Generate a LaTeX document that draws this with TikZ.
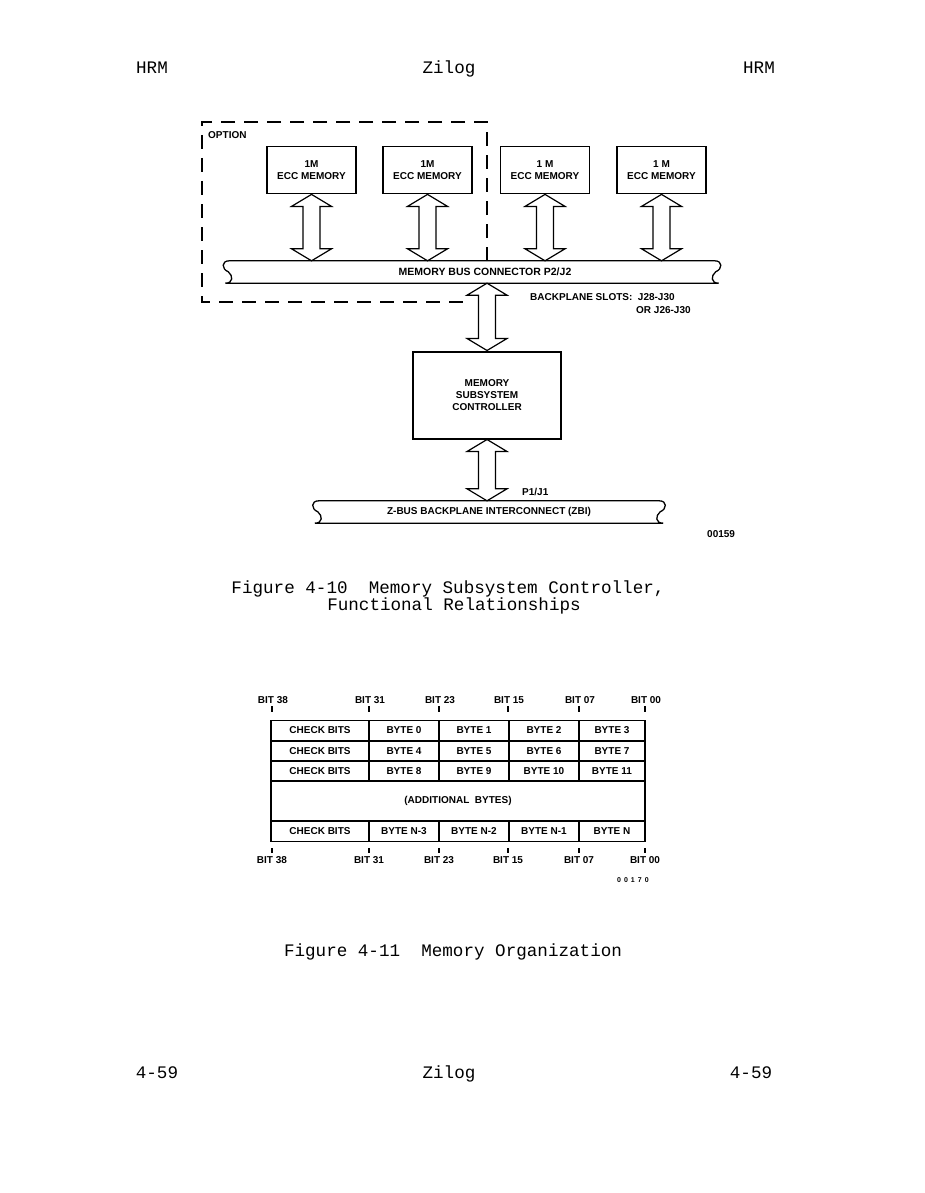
\documentclass[tikz,border=0pt]{standalone}
\usepackage{fontspec}
\setmainfont{Liberation Sans}
\setmonofont{Liberation Mono}
\usepackage{tikz}
\usetikzlibrary{positioning,calc}

\newcommand{\diagfont}{\fontsize{10}{12}\selectfont\bfseries}
\newcommand{\pagefont}{\fontsize{17.6}{17}\selectfont\ttfamily}

% hollow two-headed bus arrow, #1 upper tip, #2 lower tip
\newcommand{\busarrow}[2]{%
  \draw[dblarrow] let \p1=(#1), \p2=(#2) in
    (\x1,\y1) -- ++(20pt,-12pt) -- ++(-11.5pt,0pt) -- (\x1+8.5pt,\y2+12pt) -- ++(11.5pt,0pt)
    -- (\x1,\y2) -- ++(-20pt,12pt) -- ++(11.5pt,0pt) -- (\x1-8.5pt,\y1-12pt) -- ++(-11.5pt,0pt) -- cycle;}

% ribbon outline with curled ends round a bus node
\newcommand{\busoutline}[1]{%
  \draw[busline] let \p1=(#1.north west), \p2=(#1.south east) in
    (\x1+2pt,\y2) .. controls (\x1+10pt,\y2) and (\x1+10pt,\y1-15pt) .. (\x1+5pt,\y1-11pt)
    .. controls (\x1-2pt,\y1-8pt) and (\x1-2pt,\y1) .. (\x1+6pt,\y1)
    -- (\x2-6pt,\y1)
    .. controls (\x2+2pt,\y1) and (\x2+2pt,\y1-8pt) .. (\x2-5pt,\y1-11pt)
    .. controls (\x2-10pt,\y1-15pt) and (\x2-10pt,\y2) .. (\x2-2pt,\y2)
    -- cycle;}

\begin{document}
\begin{tikzpicture}[x=1pt, y=-1pt,
  page/.style={font=\pagefont, inner sep=0pt, anchor=base},
  txt/.style={font=\diagfont, inner sep=0pt},
  membox/.style={draw, line width=1.8pt, minimum width=89pt, minimum height=47pt, align=center, inner sep=0pt, font=\diagfont},
  ctrlbox/.style={draw, line width=2pt, minimum width=148pt, minimum height=87pt, align=center, inner sep=0pt, font=\diagfont},
  bus/.style={minimum height=22pt, inner sep=0pt, font=\diagfont},
  busline/.style={line width=1.3pt},
  dblarrow/.style={line width=1.2pt, line join=miter},
  optframe/.style={line width=1.1pt, dash pattern=on 14pt off 9pt},
  cell/.style={draw, line width=1.5pt, minimum height=20.5pt, inner sep=0pt, font=\diagfont},
  bitlbl/.style={font=\diagfont, inner sep=0pt},
  tick/.style={line width=1.5pt},
]
  \fill[white] (0,0) rectangle (925,1193);
  \useasboundingbox (0,0) rectangle (925,1193);

  % Page header and footer
  \node[page] (hrmL) at (152,74) {HRM};
  \node[page] (zilogT) at (449,74) {Zilog};
  \node[page] (hrmR) at (759,74) {HRM};
  \node[page] (pgL) at (157,1078) {4-59};
  \node[page] (zilogB) at (449,1078) {Zilog};
  \node[page] (pgR) at (751,1078) {4-59};

  % Figure 4-10: memory boards
  \node[membox] (mem1) at (311.5,170) {1M\\ECC MEMORY};
  \node[membox] (mem2) at (427.5,170) {1M\\ECC MEMORY};
  \node[membox] (mem3) at (545,170) {1 M\\ECC MEMORY};
  \node[membox] (mem4) at (661.5,170) {1 M\\ECC MEMORY};

  % Buses and controller
  \node[bus, minimum width=497pt] (mbus) at (472,272) {};
  \busoutline{mbus}
  \node[txt, font=\fontsize{10.5}{12}\selectfont\bfseries] (mbuslbl) at (485,272) {MEMORY BUS CONNECTOR P2/J2};
  \node[ctrlbox] (ctrl) at (487,395) {MEMORY\\SUBSYSTEM\\CONTROLLER};
  \node[bus, minimum width=352pt] (zbus) at (489,512) {Z-BUS BACKPLANE INTERCONNECT (ZBI)};
  \busoutline{zbus}

  % Option frame
  \draw[optframe] (487,261) -- (487,122) -- (202,122) -- (202,302) -- (472,302);
  \node[txt, anchor=west] (optlbl) at (208,135) {OPTION};

  % Arrows
  \foreach \m in {mem1,mem2,mem3,mem4} {
    \busarrow{\m.south}{\m.south |- mbus.north}
  }
  \busarrow{ctrl.north |- mbus.south}{ctrl.north}
  \busarrow{ctrl.south}{ctrl.south |- zbus.north}

  % Labels
  \node[txt, anchor=west] (slots) at (530,297) {BACKPLANE SLOTS:\ \ J28-J30};
  \node[txt, anchor=west] (slotsalt) at (636,310) {OR J26-J30};
  \node[txt, anchor=west] (p1j1) at (522,492) {P1/J1};
  \node[txt, anchor=west] (figno1) at (707,534) {00159};

  \node[page] (capA1) at (448,593) {Figure 4-10\ \ Memory Subsystem Controller,};
  \node[page] (capA2) at (454,610) {Functional Relationships};

  % Figure 4-11: memory organization
  \foreach \r/\yy/\ba/\bb/\bc/\bd in {1/730.5/BYTE 0/BYTE 1/BYTE 2/BYTE 3,
      2/751/BYTE 4/BYTE 5/BYTE 6/BYTE 7,
      3/771/BYTE 8/BYTE 9/BYTE 10/BYTE 11,
      5/831/BYTE N-3/BYTE N-2/BYTE N-1/BYTE N} {
    \node[cell, minimum width=98pt] (chk\r) at (320,\yy) {CHECK BITS};
    \node[cell, minimum width=70pt] (ba\r) at (404,\yy) {\ba};
    \node[cell, minimum width=70pt] (bb\r) at (474,\yy) {\bb};
    \node[cell, minimum width=70pt] (bc\r) at (544,\yy) {\bc};
    \node[cell, minimum width=66pt] (bd\r) at (612,\yy) {\bd};
  }
  \node[cell, minimum width=374pt, minimum height=40pt] (addl) at (458,801) {(ADDITIONAL\ \ BYTES)};

  % Bit positions
  \foreach \bx/\bl in {272/38, 369/31, 439/23, 508/15, 579/07, 645/00} {
    \node[bitlbl] (top\bl) at (\bx+1,700) {BIT \bl};
    \draw[tick] (\bx,706) -- (\bx,712);
    \node[bitlbl] (bot\bl) at (\bx,860) {BIT \bl};
    \draw[tick] (\bx,848) -- (\bx,853);
  }
  \node[txt, anchor=west, font=\fontsize{7}{8}\selectfont\bfseries] (figno2) at (617,880) {0\hspace{3pt}0\hspace{3pt}1\hspace{3pt}7\hspace{3pt}0};

  \node[page] (capB) at (453,956) {Figure 4-11\ \ Memory Organization};
\end{tikzpicture}
\end{document}
